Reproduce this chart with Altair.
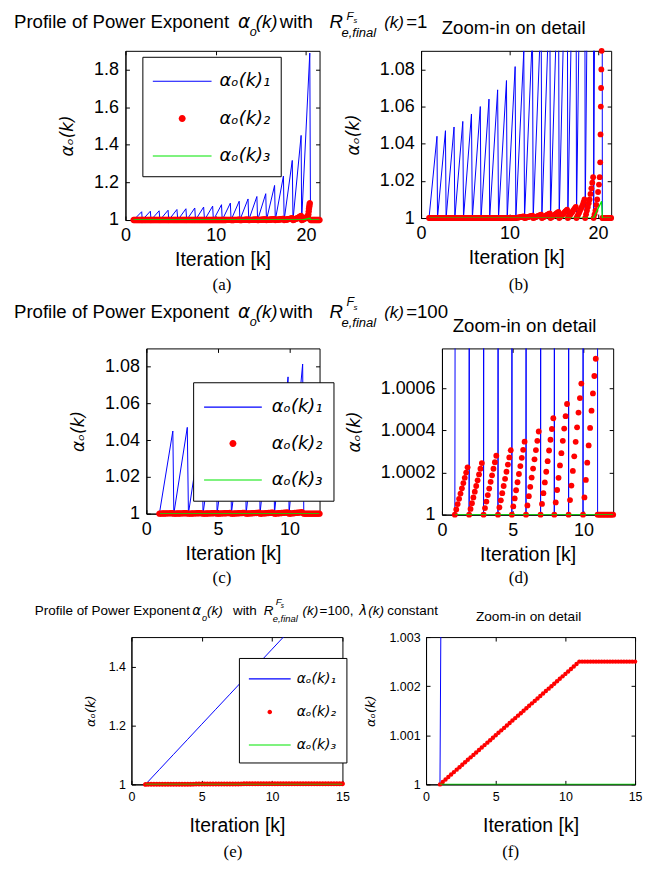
import altair as alt
import pandas as pd

FONT = "Liberation Sans"
SERIF = "Liberation Serif"
MATH = "DejaVu Sans"
BLUE, RED, GREEN = "#0000ff", "#ff0000", "#00e600"
LABELS = ["αₒ(k)₁", "αₒ(k)₂", "αₒ(k)₃"]

# ---------------- panels (a),(b): R = 1 ----------------
AB_PEAK_X = [1.80, 2.76, 3.73, 4.72, 5.70, 6.70, 7.68, 8.66, 9.66, 10.64,
             11.62, 12.60, 13.58, 14.56, 15.54, 16.52, 17.50, 18.48, 19.46, 20.42]
AB_PEAK_Y = [1.044, 1.047, 1.049, 1.052, 1.056, 1.060, 1.064, 1.069, 1.074, 1.0815,
             1.090, 1.100, 1.112, 1.125, 1.140, 1.184, 1.234, 1.317, 1.450, 1.888]
AB_RISE = 0.9
SUB = [0.0, 0.1, 0.2, 0.3, 0.4, 0.5, 0.6, 0.7, 0.8, 0.9]
FLAT = [1.0] * 10
RED_AB_TEETH = [FLAT] * 10 + [
    [1.0, 1.0001, 1.0002, 1.0003, 1.0004, 1.0005, 1.0006, 1.0007, 1.0008, 1.0009],
    [1.0, 1.0001, 1.0003, 1.0004, 1.0006, 1.0007, 1.0009, 1.0010, 1.0012, 1.0013],
    [1.0, 1.0002, 1.0004, 1.0006, 1.0008, 1.0010, 1.0012, 1.0014, 1.0016, 1.0018],
    [1.0, 1.0003, 1.0006, 1.0008, 1.0011, 1.0014, 1.0017, 1.0019, 1.0022, 1.0025],
    [1.0, 1.0004, 1.0007, 1.0011, 1.0015, 1.0018, 1.0022, 1.0026, 1.0029, 1.0033],
    [1.0, 1.0005, 1.0010, 1.0015, 1.0020, 1.0025, 1.0030, 1.0035, 1.0040, 1.0045],
    [1.0, 1.0007, 1.0013, 1.0020, 1.0027, 1.0033, 1.0040, 1.0047, 1.0053, 1.0060],
    [1.0, 1.0010, 1.0020, 1.0030, 1.0040, 1.0050, 1.0060, 1.0070, 1.0085, 1.0100],
    [1.0, 1.0020, 1.0040, 1.0060, 1.0080, 1.0100, 1.0130, 1.0160, 1.0190, 1.0220],
]
RED_AB_LAST_X = [19.52, 19.62, 19.72, 19.82, 19.92, 20.02, 20.12, 20.20, 20.26, 20.30, 20.33, 20.36, 20.39, 20.42]
RED_AB_LAST_Y = [1.0, 1.002, 1.004, 1.007, 1.010, 1.014, 1.018, 1.022, 1.030, 1.045, 1.060, 1.070, 1.080, 1.090]
RED_AB_END_X = [20.5, 20.6, 20.7, 20.8, 20.9, 21.0, 21.1, 21.2, 21.3, 21.4, 21.5]
GREEN_AB_X = [0.9, 19.5, 20.42, 20.5, 21.5]
GREEN_AB_Y = [1.0, 1.0, 1.009, 1.0, 1.0]

# ---------------- panels (c),(d): R = 100 ----------------
CD_START = [0.91, 1.92, 2.94, 3.96, 4.94, 5.94, 6.97, 7.94, 8.95, 9.97]
CD_PEAK_X = [1.85, 2.86, 3.88, 4.88, 5.87, 6.88, 7.89, 8.88, 9.90, 10.92]
CD_PEAK_Y = [1.045, 1.047, 1.049, 1.052, 1.056, 1.060, 1.064, 1.069, 1.0745, 1.0815]
RED_CD_E6 = [
    [0, 25, 50, 75, 100, 125, 150, 175, 200, 225],
    [0, 27, 54, 82, 109, 136, 163, 191, 218, 245],
    [0, 31, 62, 93, 124, 156, 187, 218, 249, 280],
    [0, 34, 68, 102, 136, 170, 204, 238, 272, 306],
    [0, 39, 77, 116, 154, 193, 231, 270, 308, 347],
    [0, 44, 88, 132, 176, 219, 263, 307, 351, 395],
    [0, 51, 102, 153, 204, 254, 305, 356, 407, 458],
    [0, 58, 117, 175, 234, 292, 351, 409, 468, 526],
    [0, 69, 138, 208, 277, 346, 415, 485, 554, 623],
    [0, 82, 165, 247, 329, 412, 494, 576, 659, 741],
]
RED_CD_END_X = [11.0, 11.1, 11.2, 11.3, 11.4, 11.5, 11.6, 11.7, 11.8, 11.9, 12.0, 12.1]
GREEN_CD_X = [0.95, 12.1]
GREEN_CD_Y = [1.0, 1.0]

# ---------------- panels (e),(f): R = 100, lambda constant ----------------
BLUE_EF_X = [1, 2, 3, 4, 5, 6, 7, 8, 9, 10, 11, 12]
BLUE_EF_Y = [1.0, 1.051, 1.102, 1.153, 1.204, 1.255, 1.306, 1.357, 1.408, 1.459, 1.510, 1.561]
RED_EF_X = [1.0 + 0.2 * i for i in range(71)]
RED_EF_E5 = [0, 5, 10, 15, 20, 25, 30, 35, 40, 45, 50, 55, 60, 65, 70, 75, 80, 85, 90, 95,
             100, 105, 110, 115, 120, 125, 130, 135, 140, 145, 150, 155, 160, 165, 170, 175,
             180, 185, 190, 195, 200, 205, 210, 215, 220, 225, 230, 235, 240, 245, 250] + [250] * 20
GREEN_EF_X = [1.0, 15.0]
GREEN_EF_Y = [1.0, 1.0]

# ---------------- build series ----------------
blue_ab_x, blue_ab_y = [], []
for px, py in zip(AB_PEAK_X, AB_PEAK_Y):
    blue_ab_x += [round(px - AB_RISE, 3), px]
    blue_ab_y += [1.0, py]
blue_ab_x += [20.5, 21.5]
blue_ab_y += [1.0, 1.0]

red_ab_x, red_ab_y = [], []
for px, vals in zip(AB_PEAK_X[:19], RED_AB_TEETH):
    for s, v in zip(SUB, vals):
        red_ab_x.append(round(px - AB_RISE + s, 3))
        red_ab_y.append(v)
red_ab_x += RED_AB_LAST_X + RED_AB_END_X
red_ab_y += RED_AB_LAST_Y + [1.0] * len(RED_AB_END_X)

blue_cd_x, blue_cd_y = [], []
for st, px, py in zip(CD_START, CD_PEAK_X, CD_PEAK_Y):
    blue_cd_x += [st, px]
    blue_cd_y += [1.0, py]
blue_cd_x += [11.0, 12.1]
blue_cd_y += [1.0, 1.0]

red_cd_x, red_cd_y = [], []
for st, col in zip(CD_START, RED_CD_E6):
    for s, v in zip(SUB, col):
        red_cd_x.append(round(st + s, 3))
        red_cd_y.append(1.0 + v * 1e-6)
red_cd_x += RED_CD_END_X
red_cd_y += [1.0] * len(RED_CD_END_X)

red_ef_y = [1.0 + v * 1e-5 for v in RED_EF_E5]


def line_path(half_len, half_th):
    return f"M{-half_len},{-half_th}H{half_len}V{half_th}H{-half_len}Z"


def dot_path(r):
    return f"M{-r},0A{r},{r} 0 1,0 {r},0A{r},{r} 0 1,0 {-r},0Z"


def tx(text, x, y, size, font=FONT, style="normal", align="left"):
    return alt.Chart(pd.DataFrame({"t": [text]})).mark_text(
        font=font, fontSize=size, fontStyle=style, align=align,
        baseline="alphabetic", color="black"
    ).encode(x=alt.value(x), y=alt.value(y), text="t:N")


def panel(blue, red, green, xdom, xticks, ydom, yticks, yfmt, w, h, st,
          legend=None, texts=()):
    xs = alt.Scale(domain=xdom, nice=False, zero=False)
    ys = alt.Scale(domain=ydom, nice=False, zero=False)
    xaxis = alt.Axis(values=xticks, format="d", title="Iteration [k]",
                     grid=True, gridColor="black", gridOpacity=1, gridWidth=1,
                     gridDash=[4, h - 8, 4, 60], ticks=False,
                     domainColor="black", domainWidth=1,
                     labelFont=FONT, labelFontSize=st["lab"], labelColor="black",
                     labelPadding=st["lpx"], labelFlush=False,
                     titleFont=FONT, titleFontSize=st["xt"], titleFontWeight="normal",
                     titleColor="black", titlePadding=st["xtp"])
    yaxis = alt.Axis(values=yticks, format=yfmt, title="αₒ(k)",
                     grid=True, gridColor="black", gridOpacity=1, gridWidth=1,
                     gridDash=[4, w - 8, 4, 60], ticks=False,
                     domainColor="black", domainWidth=1,
                     labelFont=FONT, labelFontSize=st["lab"], labelColor="black",
                     labelPadding=st["lpy"], labelFlush=False,
                     titleFont=MATH, titleFontStyle="italic", titleFontSize=st["yt"],
                     titleFontWeight="normal", titleColor="black",
                     titlePadding=st["ytp"])
    X = alt.X("x:Q", scale=xs, axis=xaxis)
    Y = alt.Y("y:Q", scale=ys, axis=yaxis)
    bl = alt.Chart(pd.DataFrame({"x": blue[0], "y": blue[1]})).mark_line(
        color=BLUE, strokeWidth=1, clip=True).encode(x=X, y=Y)
    gr = alt.Chart(pd.DataFrame({"x": green[0], "y": green[1]})).mark_line(
        color=GREEN, strokeWidth=1.3, clip=True).encode(x=X, y=Y)
    rdf = pd.DataFrame({"x": red[0], "y": red[1], "s": LABELS[1]})
    if legend is not None:
        unit = legend["sym"] ** 0.5 / 2
        lp = line_path(round(legend["line"] / 2 / unit, 4), round(0.55 / unit, 4))
        dp = dot_path(round(legend["dot"] / unit, 4))
        leg = alt.Legend(orient="none", legendX=legend["x"], legendY=legend["y"],
                         title=None, padding=legend["pad"], strokeColor="black",
                         fillColor="white", symbolSize=legend["sym"],
                         symbolStrokeWidth=0, symbolOffset=legend["soff"],
                         labelOffset=legend["loff"], rowPadding=legend["rp"],
                         labelFont=MATH, labelFontStyle="italic",
                         labelFontSize=legend["fs"], labelColor="black", labelLimit=300)
        size = (2 * st["r"] / (legend["dot"] / unit)) ** 2
        rp = alt.Chart(rdf).mark_point(filled=True, opacity=1, size=size, strokeWidth=0).encode(
            x=X, y=Y,
            color=alt.Color("s:N", scale=alt.Scale(domain=LABELS, range=[BLUE, RED, GREEN]), legend=leg),
            shape=alt.Shape("s:N", scale=alt.Scale(domain=LABELS, range=[lp, dp, lp]), legend=leg),
        )
    else:
        rp = alt.Chart(rdf).mark_circle(color=RED, opacity=1, size=3.1416 * st["r"] ** 2).encode(x=X, y=Y)
    layers = [bl, rp, gr] + [tx(*t[:4], **(t[4] if len(t) > 4 else {})) for t in texts]
    return alt.layer(*layers).properties(width=w, height=h)


ST12 = dict(lab=18, xt=19.5, yt=17, lpx=7, lpy=7, xtp=6, ytp=17, r=3.2)
ST3 = dict(lab=12.5, xt=19.5, yt=13, lpx=6, lpy=6, xtp=14, ytp=11, r=2.5)
IT = {"style": "italic"}
ITM = {"style": "italic", "font": MATH}
CAP = {"font": SERIF, "align": "center"}
CEN = {"align": "center"}


def row_title(dx, base, size, sup, kk, tail):
    # sup: (F baseline, F size, s baseline, s size) relative to the panel
    s = size
    pieces = [
        ("Profile of Power Exponent", dx[0], base, s),
        ("α", dx[1], base, s, ITM),
        ("o", dx[2], base + 0.45 * s, 0.68 * s, IT),
        ("(k)", dx[3], base, s, IT),
        ("with", dx[4], base, s),
        ("R", dx[5], base, s, IT),
        ("F", dx[6], sup[0], sup[1], IT),
        ("s", dx[7], sup[2], sup[3], IT),
        ("e,final", dx[8], base + 0.5 * s, 0.7 * s, IT),
        ("(k)", dx[9], base, kk, IT),
    ]
    return pieces + tail


t1 = row_title([-112, 113, 125, 131, 155, 205, 222, 229, 217, 260], -23, 18.7,
               (-31, 11.5, -28, 7.5), 17,
               [("=1", 282, -23, 18.7)]) + [("(a)", 97, 240, 17, CAP)]
t2 = row_title([-133, 92, 104, 110, 134, 184, 201, 208, 196, 239], -31, 18.7,
               (-43, 12.5, -39, 8), 17,
               [("=100", 261, -31, 18.7)]) + [("(c)", 76, 236, 17, CAP)]
t3 = row_title([-97, 61, 71, 76, 102, 133, 145, 150, 142, 172], -22, 13.5,
               (-32, 9.5, -29, 6.5), 13.5,
               [("=100,", 189, -22, 13.5), ("λ", 229, -22, 13.5, ITM),
                ("(k)", 238, -22, 13.5, IT), ("constant", 257, -22, 13.5)]) + [("(e)", 102, 221, 17, CAP)]

LEG12 = dict(x=17, y=6, pad=10.5, sym=784, line=59, dot=3.5, soff=15.5, loff=23.5, rp=14.6, fs=18)
LEGC = dict(x=47, y=34, pad=11, sym=784, line=58, dot=3.5, soff=15, loff=25, rp=13.6, fs=18)
LEGE = dict(x=108, y=21, pad=10, sym=484, line=42, dot=2.3, soff=10, loff=16, rp=15.2, fs=14)

pa = panel((blue_ab_x, blue_ab_y), (red_ab_x, red_ab_y), (GREEN_AB_X, GREEN_AB_Y),
           [0, 21.5], [0, 10, 20], [1, 1.9], [1, 1.2, 1.4, 1.6, 1.8], ".1~f",
           195, 170, ST12, legend=LEG12, texts=t1)
pb = panel((blue_ab_x, blue_ab_y), (red_ab_x, red_ab_y), (GREEN_AB_X, GREEN_AB_Y),
           [0, 21.5], [0, 10, 20], [1, 1.09], [1, 1.02, 1.04, 1.06, 1.08], ".2~f",
           191, 168, dict(ST12, r=3.3),
           texts=[("Zoom-in on detail", 93, -17, 18.7, CEN), ("(b)", 98, 240, 17, CAP)])
pc = panel((blue_cd_x, blue_cd_y), (red_cd_x, red_cd_y), (GREEN_CD_X, GREEN_CD_Y),
           [0, 12.1], [0, 5, 10], [1, 1.09], [1, 1.02, 1.04, 1.06, 1.08], ".2~f",
           174, 166, ST12, legend=LEGC, texts=t2)
pd_ = panel((blue_cd_x, blue_cd_y), (red_cd_x, red_cd_y), (GREEN_CD_X, GREEN_CD_Y),
            [0, 12.1], [0, 5, 10], [1, 1.00079], [1, 1.0002, 1.0004, 1.0006], ".4~f",
            172, 167, dict(ST12, r=3.3),
            texts=[("Zoom-in on detail", 83, -16, 18.7, CEN), ("(d)", 77, 236, 17, CAP)])
pe = panel((BLUE_EF_X, BLUE_EF_Y), (RED_EF_X, red_ef_y), (GREEN_EF_X, GREEN_EF_Y),
           [0, 15], [0, 5, 10, 15], [1, 1.5], [1, 1.2, 1.4], ".1~f",
           212, 148, ST3, legend=LEGE, texts=t3)
pf = panel((BLUE_EF_X, BLUE_EF_Y), (RED_EF_X, red_ef_y), (GREEN_EF_X, GREEN_EF_Y),
           [0, 15], [0, 5, 10, 15], [1, 1.003], [1, 1.001, 1.002, 1.003], ".3~f",
           210, 148, ST3,
           texts=[("Zoom-in on detail", 103, -16, 13.7, CEN), ("(f)", 85, 221, 17, CAP)])


def spacer(w):
    return alt.Chart(pd.DataFrame({"v": [0]})).mark_point(opacity=0).properties(
        width=w, height=1, view=alt.ViewBackground(stroke="transparent"))


def hc(*charts, spacing):
    return alt.hconcat(*charts, spacing=spacing, bounds="flush").resolve_scale(
        color="independent", shape="independent").resolve_legend(
        color="independent", shape="independent")


def vc(*charts, spacing):
    return alt.vconcat(*charts, spacing=spacing, bounds="flush").resolve_scale(
        color="independent", shape="independent").resolve_legend(
        color="independent", shape="independent")


row1 = hc(pa, pb, spacing=102)
row2 = hc(spacer(21), hc(pc, pd_, spacing=123), spacing=0)
row3 = hc(spacer(6), hc(pe, pf, spacing=84), spacing=0)

# nested concat groups count as zero height in a flush layout, so the
# spacings below are the distances between the tops of consecutive rows
chart = vc(row1, vc(row2, row3, spacing=290), spacing=299).properties(
    padding={"left": 5, "top": 0, "right": 5, "bottom": 5},
    background="white",
).configure_view(stroke="black", strokeWidth=1)

chart.save("out.html", embed_options={"renderer": "svg", "actions": False})
